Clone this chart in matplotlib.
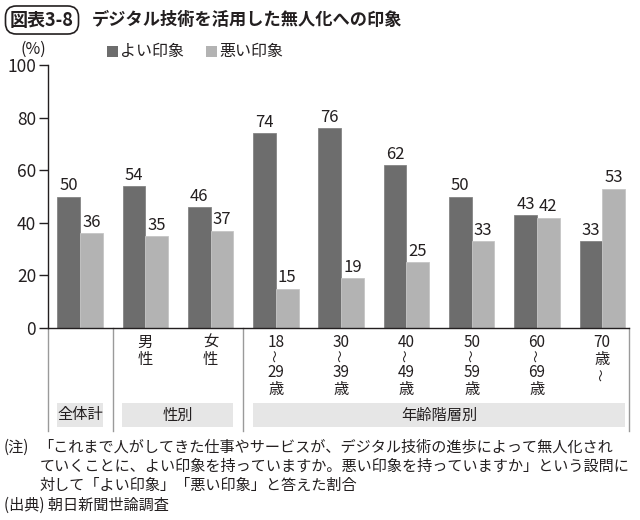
import matplotlib
matplotlib.use("Agg")
import matplotlib.pyplot as plt
from matplotlib.patches import Rectangle

plt.rcParams['font.family'] = ['Noto Sans CJK JP', 'DejaVu Sans']

# ---- data ----
# each tick label: (text above the wave, text below the wave); None = no wave
tick_top = ["", "男\n性", "女\n性", "18", "30", "40", "50", "60", "70\n歳"]
tick_bottom = [None, None, None, "29\n歳", "39\n歳", "49\n歳", "59\n歳", "69\n歳", ""]
good = [50, 54, 46, 74, 76, 62, 50, 43, 33]
bad = [36, 35, 37, 15, 19, 25, 33, 42, 53]
series_names = ["よい印象", "悪い印象"]
group_names = ["全体計", "性別", "年齢階層別"]
group_spans = [(0, 0), (1, 2), (3, 8)]
yticks = [0, 20, 40, 60, 80, 100]

c_dark = "#6d6d6d"
c_light = "#b3b3b3"
c_text = "#231f20"

W, H = 640, 520
fig = plt.figure(figsize=(6.4, 5.2), dpi=100)
ax = fig.add_axes([48 / W, 192 / H, 581 / W, 263 / H])

def fx(x):
    return x / W

def fy(y):
    return 1 - y / H

n = len(good)
xs = list(range(n))
bw = 0.348
ax.bar([x - bw / 2 for x in xs], good, width=bw, color=c_dark,
       edgecolor="#858585", linewidth=0.6, label=series_names[0])
ax.bar([x + bw / 2 for x in xs], bad, width=bw, color=c_light,
       edgecolor="#c6c6c6", linewidth=0.6, label=series_names[1])

for x, g, b in zip(xs, good, bad):
    ax.text(x - bw / 2, g + 0.9, str(g), ha="center", va="bottom",
            fontsize=12, color=c_text)
    ax.text(x + bw / 2, b + 0.9, str(b), ha="center", va="bottom",
            fontsize=12, color=c_text)

ax.set_xlim(-0.49, 8.41)
ax.set_ylim(0, 100)
ax.set_yticks(yticks)
ax.set_yticklabels([str(t) for t in yticks], fontsize=12.5, color=c_text)
ax.tick_params(axis="y", direction="out", length=6.5, width=1.0,
               color=c_text, pad=2)
ax.set_xticks([])
for s in ["top", "right"]:
    ax.spines[s].set_visible(False)
for s in ["left", "bottom"]:
    ax.spines[s].set_color(c_text)
    ax.spines[s].set_linewidth(1.0)

ppu = 263 / 100.0  # pixels per unit

def dy(py):
    return -(py - 328) / ppu

# table lines below axis
ybot = dy(431)
for sx in [-0.49, 0.5, 2.5, 8.41]:
    ax.plot([sx, sx], [0, ybot], color="#9a9a9a", lw=1.0, clip_on=False)

# category labels (vertical stacks)
lab_fs = 11
for i, (top, bot) in enumerate(zip(tick_top, tick_bottom)):
    if top:
        ax.text(i, dy(334), top, ha="center", va="top", fontsize=lab_fs,
                color=c_text, clip_on=False, linespacing=1.0)
    if bot is None:
        continue
    nlines_top = top.count("\n") + 1
    wave_c = 334 + 15 * nlines_top + 7 + 4 * (nlines_top - 1)
    ax.text(i, dy(wave_c), "～", ha="center", va="center", rotation=90,
            fontsize=9, color=c_text, clip_on=False)
    if bot:
        ax.text(i, dy(wave_c + 8), bot, ha="center", va="top",
                fontsize=lab_fs, color=c_text, clip_on=False, linespacing=1.0)

# group boxes
for name, (a, b) in zip(group_names, group_spans):
    x0 = a - 0.35
    x1 = b + 0.35
    y0 = dy(427)
    y1 = dy(403)
    ax.add_patch(Rectangle((x0, y0), x1 - x0, y1 - y0, facecolor="#e6e6e6",
                           edgecolor="none", clip_on=False))
    ax.text((x0 + x1) / 2, (y0 + y1) / 2, name, ha="center", va="center",
            fontsize=11, color=c_text, clip_on=False)

# title
fig.text(fx(10), fy(20), "図表3-8", ha="left", va="center", fontsize=13,
         fontweight="bold", color=c_text,
         bbox=dict(boxstyle="round,pad=0.25,rounding_size=0.6", fc="white",
                   ec=c_text, lw=1.2))
fig.text(fx(92), fy(20), "デジタル技術を活用した無人化への印象", ha="left",
         va="center", fontsize=12.4, fontweight="bold", color=c_text)

# units & legend
fig.text(fx(21), fy(49), "(%)", ha="left", va="center", fontsize=11.5,
         color=c_text)
fig.patches.append(Rectangle((fx(107), fy(57)), 11 / W, 11 / H,
                             transform=fig.transFigure, facecolor=c_dark,
                             edgecolor="none"))
fig.text(fx(120), fy(51), series_names[0], ha="left", va="center",
         fontsize=11.5, color=c_text)
fig.patches.append(Rectangle((fx(206), fy(57)), 11 / W, 11 / H,
                             transform=fig.transFigure, facecolor=c_light,
                             edgecolor="none"))
fig.text(fx(219), fy(51), series_names[1], ha="left", va="center",
         fontsize=11.5, color=c_text)

# notes
nfs = 10.9
fig.text(fx(4), fy(447), "(注)", ha="left", va="center", fontsize=nfs,
         color=c_text)
fig.text(fx(38), fy(447),
         "「これまで人がしてきた仕事やサービスが、デジタル技術の進歩によって無人化され",
         ha="left", va="center", fontsize=nfs, color=c_text)
fig.text(fx(40), fy(466),
         "ていくことに、よい印象を持っていますか。悪い印象を持っていますか」という設問に",
         ha="left", va="center", fontsize=nfs, color=c_text)
fig.text(fx(40), fy(485), "対して「よい印象」「悪い印象」と答えた割合",
         ha="left", va="center", fontsize=nfs, color=c_text)
fig.text(fx(4), fy(505), "(出典) 朝日新聞世論調査", ha="left", va="center",
         fontsize=nfs, color=c_text)

fig.savefig("out.png", dpi=100)
